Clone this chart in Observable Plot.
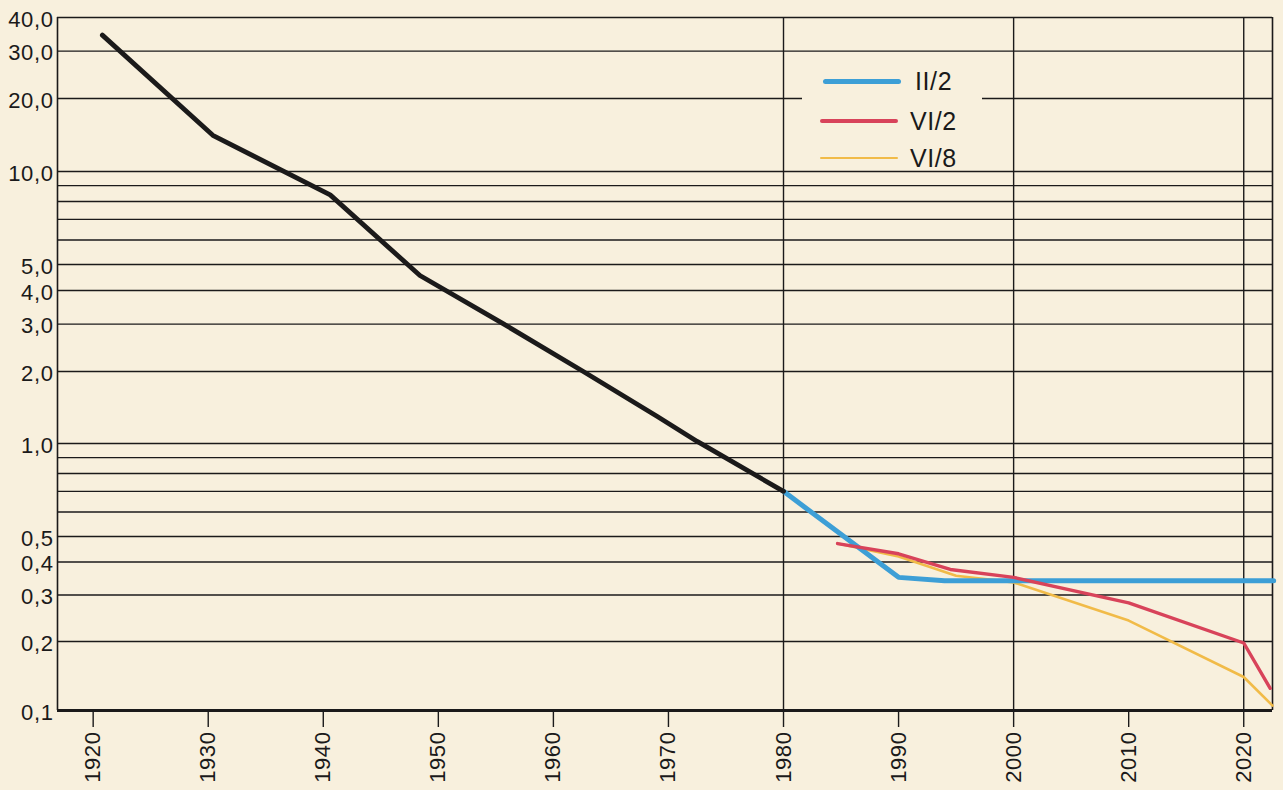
<!DOCTYPE html>
<html>
<head>
<meta charset="utf-8">
<script src="https://cdn.jsdelivr.net/npm/d3@7"></script>
<script src="https://cdn.jsdelivr.net/npm/@observablehq/plot@0.6"></script>
<style>
  html, body { margin: 0; padding: 0; background: #f8f0dd; }
  #wrap { position: relative; width: 1283px; height: 790px; overflow: hidden; }
  #legend { position: absolute; left: 802px; top: 60px; width: 180px; height: 106px; background: #f8f0dd;
            font-family: "Liberation Sans", Arial, sans-serif; font-size: 25px; color: #1a1a1a; letter-spacing: 0.6px; }
  .item { position: absolute; left: 0; height: 30px; }
  .sw { position: absolute; border-radius: 3px; }
  .lab { position: absolute; line-height: 30px; top: -15px; }
  #chart text { letter-spacing: 0.6px; }
</style>
</head>
<body>
<div id="wrap"><div id="chart"></div>
<div id="legend"></div></div>
<script>
// Historical series (black)
const histYears  = [1920.8, 1930.4, 1940.6, 1948.4, 1955.7, 1962.6, 1969, 1972.5, 1980];
const histValues = [34.4, 14.1, 8.4, 4.55, 3.0, 2.0, 1.3, 1.02, 0.7];
// Projection II/2 (blue)
const ii2Years  = [1980, 1990, 1994, 2022.6];
const ii2Values = [0.7, 0.35, 0.34, 0.34];
// Projection VI/2 (red)
const vi2Years  = [1984.7, 1990, 1994.5, 2000, 2010, 2020, 2022.3];
const vi2Values = [0.47, 0.43, 0.375, 0.35, 0.28, 0.197, 0.125];
// Projection VI/8 (yellow)
const vi8Years  = [1984.7, 1990, 1995, 2000, 2010, 2020, 2022.5];
const vi8Values = [0.47, 0.42, 0.355, 0.335, 0.24, 0.14, 0.105];

const gridValues = [0.1,0.2,0.3,0.4,0.5,0.6,0.7,0.8,0.9,1,2,3,4,5,6,7,8,9,10,20,30,40];
const yTickLabels = [0.1,0.2,0.3,0.4,0.5,1,2,3,4,5,10,20,30,40];
const xTicks = [1920,1930,1940,1950,1960,1970,1980,1990,2000,2010,2020];
const xRules = [1980, 2000, 2020];
const xDomain = [1916.9, 2022.5];

const seriesNames  = ["II/2", "VI/2", "VI/8"];
const seriesColors = ["#3d9fd6", "#d8435a", "#f1bb48"];

// The printed log ruling is slightly uneven; a piecewise log scale follows it.
const yScaleDomain = [0.1, 0.2, 0.5, 1, 2, 5, 10, 20, 40];
const yScaleRange  = [710, 641, 536, 443, 371, 264, 171, 98, 17];

const toRows = (xs, ys) => xs.map((x, i) => ({x, y: ys[i]}));
const ink = "#1b1a1a";
const fmt = v => v.toFixed(1).replace(".", ",");

const chart = Plot.plot({
  width: 1283, height: 790,
  marginLeft: 57, marginRight: 11, marginTop: 17, marginBottom: 80,
  style: {background: "transparent", fontFamily: "Liberation Sans, Arial, sans-serif", color: ink},
  x: {domain: xDomain, axis: null, label: null},
  y: {type: "log", domain: yScaleDomain, range: yScaleRange, axis: null, label: null},
  marks: [
    Plot.ruleY(gridValues, {stroke: ink, strokeWidth: 1.4}),
    Plot.ruleX(xRules, {y1: 0.1, y2: 40, stroke: ink, strokeWidth: 1.4}),
    Plot.ruleX(xDomain, {y1: 0.1, y2: 40, stroke: ink, strokeWidth: 1.6}),
    Plot.ruleY([0.1], {stroke: ink, strokeWidth: 3}),
    Plot.text(yTickLabels, {y: d => d, text: fmt, frameAnchor: "left", textAnchor: "end", dx: -4, dy: 2, fontSize: 22, fill: ink}),
    Plot.axisX({ticks: xTicks, tickFormat: d => String(d), tickSize: 17, tickPadding: 4, tickRotate: -90, fontSize: 22, anchor: "bottom", label: null, strokeWidth: 1.4, stroke: ink, fill: ink}),
    Plot.line(toRows(vi8Years, vi8Values), {x: "x", y: "y", stroke: seriesColors[2], strokeWidth: 2.6}),
    Plot.line(toRows(ii2Years, ii2Values), {x: "x", y: "y", stroke: seriesColors[0], strokeWidth: 5}),
    Plot.line(toRows(vi2Years, vi2Values), {x: "x", y: "y", stroke: seriesColors[1], strokeWidth: 3.4}),
    Plot.line(toRows(histYears, histValues), {x: "x", y: "y", stroke: ink, strokeWidth: 4.8, strokeLinecap: "round"})
  ]
});
document.getElementById("chart").appendChild(chart);

// Legend overlay
const legend = document.getElementById("legend");
const rowsTop = [21, 61, 98];
const swLeft = [21, 18, 18];
const swWidth = [78, 78, 78];
const swThick = [5, 3.5, 2.6];
const labLeft = [113, 108, 108];
seriesNames.forEach((name, i) => {
  const item = document.createElement("div");
  item.className = "item";
  item.style.top = rowsTop[i] + "px";
  const sw = document.createElement("div");
  sw.className = "sw";
  sw.style.left = swLeft[i] + "px";
  sw.style.width = swWidth[i] + "px";
  sw.style.height = swThick[i] + "px";
  sw.style.top = (-swThick[i] / 2) + "px";
  sw.style.background = seriesColors[i];
  const lab = document.createElement("div");
  lab.className = "lab";
  lab.style.left = labLeft[i] + "px";
  lab.textContent = name;
  item.appendChild(sw);
  item.appendChild(lab);
  legend.appendChild(item);
});
</script>
</body>
</html>
